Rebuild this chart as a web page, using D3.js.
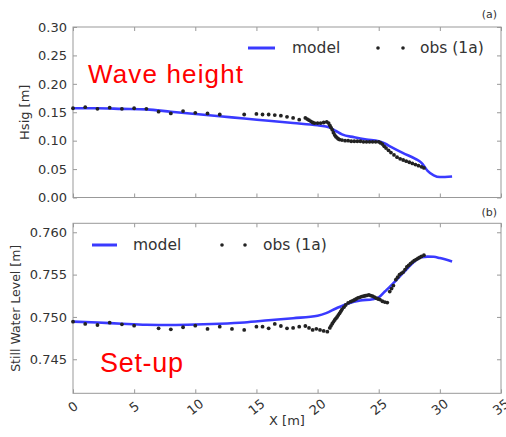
<!DOCTYPE html>
<html><head><meta charset="utf-8">
<script src="https://cdn.jsdelivr.net/npm/d3@7"></script>
<style>body{margin:0;background:#fff}svg{display:block}text{font-family:"DejaVu Sans",sans-serif;fill:#333}</style>
</head><body><svg id="c" width="506" height="437"></svg>
<script>
// ---- data ----
const xTicks = [0,5,10,15,20,25,30,35];
const hsigTicks = [0,0.05,0.10,0.15,0.20,0.25,0.30];
const swlTicks = [0.745,0.750,0.755,0.760];

const modelHsigX = [0,2,4,6,8,10,12,14,16,18,20,21,21.5,22,23,24,25,25.5,26,27,28,28.5,29,29.5,30,31];
const modelHsig  = [.157,.157,.156,.155,.151,.147,.143,.139,.135,.131,.127,.123,.117,.111,.106,.102,.099,.095,.089,.078,.068,.061,.047,.039,.036,.037];

const obsHsigX = [0,1,2,3,4,5,6,7,8,9,10,11,12,14,15,15.5,16,16.5,17,17.5,18,18.5,
  19.0,19.15,19.3,19.45,19.6,19.75,20.0,20.25,20.5,20.75,20.9,21.0,21.1,21.2,21.3,21.4,21.5,21.6,21.7,21.8,22.0,22.25,22.5,22.75,23.0,23.25,23.5,23.75,24.0,24.25,24.5,24.75,25.0,25.15,25.3,25.45,25.6,25.8,26.0,26.25,26.5,26.75,27.0,27.25,27.5,27.75,28.0,28.25,28.5,28.7];
const obsHsig  = [.157,.159,.156,.158,.156,.157,.156,.151,.148,.152,.149,.148,.146,.146,.147,.146,.146,.145,.144,.142,.140,.137,
  .140,.138,.136,.134,.132,.131,.131,.131,.132,.133,.131,.127,.123,.119,.114,.110,.107,.105,.103,.102,.101,.100,.100,.099,.099,.099,.099,.098,.098,.098,.098,.098,.098,.096,.094,.090,.087,.083,.079,.075,.071,.068,.066,.064,.062,.060,.058,.056,.054,.052];

const modelSwlX = [0,2,4,6,8,10,12,14,16,18,20,20.7,21.5,22.5,23.5,24.5,25,25.5,26,27,28,28.5,29,29.5,30,31];
const modelSwl  = [.74945,.74935,.74920,.74908,.74905,.74910,.74920,.74935,.74960,.74985,.75015,.75045,.75100,.75160,.75195,.75210,.75230,.75300,.75370,.75520,.75665,.75705,.75712,.75710,.75695,.75655];

const obsSwlX = [0,1,2,3,4,5,7,8,9,10,11,12,13,14,15,15.5,16,16.5,17,17.5,18,18.5,19,19.3,19.6,19.9,20.2,20.5,20.8,21.0,21.1,21.2,21.3,21.4,21.5,21.6,21.7,21.8,21.9,22.0,22.15,22.3,22.5,22.7,22.85,23.0,23.15,23.3,23.45,23.6,23.75,23.9,24.05,24.2,24.35,24.5,24.65,24.8,24.95,25.1,25.3,25.5,25.7,25.9,26.05,26.2,26.4,26.55,26.7,26.85,27.0,27.15,27.3,27.45,27.6,27.75,27.9,28.05,28.2,28.35,28.5,28.7];
const obsSwl  = [.74944,.74917,.74905,.74932,.74913,.74897,.74866,.74854,.74878,.74897,.74858,.74885,.74858,.74846,.74885,.74885,.74866,.74917,.74893,.74866,.74870,.74885,.74893,.74870,.74846,.74860,.74846,.74835,.74826,.74870,.74895,.74920,.74942,.74964,.74982,.75000,.75022,.75043,.75066,.75090,.75115,.75141,.75165,.75180,.75190,.75200,.75212,.75225,.75232,.75240,.75245,.75250,.75255,.75260,.75252,.75245,.75235,.75222,.75212,.75205,.75185,.75175,.75170,.75300,.75335,.75370,.75440,.75470,.75500,.75515,.75530,.75560,.75590,.75610,.75630,.75648,.75665,.75678,.75690,.75702,.75715,.75730];

// ---- drawing ----
const svg = d3.select("#c");
const BLUE = "#3a3aff";
const x = d3.scaleLinear().domain([0,35]).range([73,501]);
const yA = d3.scaleLinear().domain([0,0.30]).range([197.5,27]);
const yB = d3.scaleLinear().domain([0.74098,0.76106]).range([393.3,223.3]);

function panel(y, yt, fmt, modelX, modelY, obsX, obsY){
  const g = svg.append("g");
  const [y0,y1] = y.range();
  const ax = [
    [d3.axisBottom(x).tickValues(xTicks).tickSize(-4).tickSizeOuter(0).tickFormat(""), `translate(0,${y0})`],
    [d3.axisTop(x).tickValues(xTicks).tickSize(-4).tickSizeOuter(0).tickFormat(""), `translate(0,${y1})`],
    [d3.axisLeft(y).tickValues(yt).tickSize(-4).tickSizeOuter(0).tickPadding(6).tickFormat(fmt), `translate(${x(0)},0)`],
    [d3.axisRight(y).tickValues(yt).tickSize(-4).tickSizeOuter(0).tickFormat(""), `translate(${x(35)},0)`]
  ];
  ax.forEach(([a,t])=>{
    const s = g.append("g").attr("transform",t).call(a);
    s.select(".domain").remove();
    s.selectAll(".tick line").attr("stroke","#999");
    s.selectAll(".tick text").style("font-size","13px").attr("fill","#333");
  });
  g.append("rect").attr("x",x(0)).attr("y",y1).attr("width",x(35)-x(0)).attr("height",y0-y1)
    .attr("fill","none").attr("stroke","#999").attr("stroke-width",1);
  const clip = "clip"+Math.random().toString(36).slice(2);
  svg.append("clipPath").attr("id",clip).append("rect").attr("x",x(0)).attr("y",y1).attr("width",x(35)-x(0)).attr("height",y0-y1);
  const line = d3.line().x(d=>x(d[0])).y(d=>y(d[1])).curve(d3.curveMonotoneX);
  g.append("path").attr("clip-path",`url(#${clip})`).datum(d3.zip(modelX,modelY)).attr("d",line)
    .attr("fill","none").attr("stroke",BLUE).attr("stroke-width",2.6);
  g.append("g").selectAll("circle").data(d3.zip(obsX,obsY)).join("circle")
    .attr("cx",d=>x(d[0])).attr("cy",d=>y(d[1])).attr("r",1.9).attr("fill","#222");
  return g;
}
panel(yA, hsigTicks, d3.format(".2f"), modelHsigX, modelHsig, obsHsigX, obsHsig);
panel(yB, swlTicks, d3.format(".3f"), modelSwlX, modelSwl, obsSwlX, obsSwl);

// x tick labels rotated
svg.append("g").selectAll("text").data(xTicks).join("text")
  .attr("transform",d=>`translate(${x(d)},407) rotate(-38)`)
  .attr("text-anchor","middle").attr("dominant-baseline","central")
  .style("font-size","13px").text(d=>d);

// axis labels
svg.append("text").attr("transform",`translate(${x(17.5)},425)`).attr("text-anchor","middle").style("font-size","13px").text("X [m]");
svg.append("text").attr("transform",`translate(29,${(yA.range()[0]+yA.range()[1])/2}) rotate(-90)`).attr("text-anchor","middle").style("font-size","13px").text("Hsig [m]");
svg.append("text").attr("transform",`translate(20,${(yB.range()[0]+yB.range()[1])/2}) rotate(-90)`).attr("text-anchor","middle").style("font-size","12.5px").text("Still Water Level [m]");
svg.append("text").attr("x",497).attr("y",18).attr("text-anchor","end").style("font-size","11px").text("(a)");
svg.append("text").attr("x",497).attr("y",216).attr("text-anchor","end").style("font-size","11px").text("(b)");

// annotations
svg.append("text").attr("x",88).attr("y",83).style("font-family","'Liberation Sans',Arial,sans-serif").style("font-size","26px").style("fill","#f00").attr("textLength",155).text("Wave height");
svg.append("text").attr("x",100).attr("y",372).style("font-family","'Liberation Sans',Arial,sans-serif").style("font-size","27px").style("fill","#f00").attr("textLength",83).text("Set-up");

// legends
function legend(ly, lx0, lx1, tx1, d1, d2, tx2){
  svg.append("line").attr("x1",lx0).attr("x2",lx1).attr("y1",ly).attr("y2",ly).attr("stroke",BLUE).attr("stroke-width",3);
  svg.append("text").attr("x",tx1).attr("y",ly+5).style("font-size","15.5px").text("model");
  [d1,d2].forEach(dx=>svg.append("circle").attr("cx",dx).attr("cy",ly).attr("r",1.8).attr("fill","#222"));
  svg.append("text").attr("x",tx2).attr("y",ly+5).style("font-size","15.5px").text("obs (1a)");
}
legend(48, 248, 275, 292, 378, 403, 420);
legend(245, 92, 117, 133, 222, 245, 263);
</script></body></html>
